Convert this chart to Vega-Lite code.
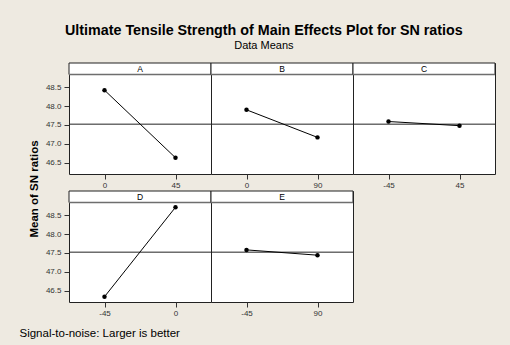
{
  "$schema": "https://vega.github.io/schema/vega-lite/v6.json",
  "background": "#EEEAE1",
  "padding": {"left": 19, "top": 23, "right": 15, "bottom": 8},
  "title": {
    "text": "Ultimate Tensile Strength of Main Effects Plot for SN ratios",
    "subtitle": "Data Means",
    "font": "Liberation Sans",
    "fontSize": 14.3,
    "fontWeight": "bold",
    "color": "black",
    "subtitleFont": "Liberation Sans",
    "subtitleFontSize": 11,
    "subtitleColor": "black",
    "subtitlePadding": 2,
    "offset": 10,
    "anchor": "middle",
    "dx": 6
  },
  "vconcat": [
    {
      "title": {
        "text": "Signal-to-noise: Larger is better",
        "orient": "bottom",
        "anchor": "start",
        "font": "Liberation Sans",
        "fontSize": 11.5,
        "fontWeight": "normal",
        "color": "black",
        "offset": 10,
        "dx": -9
      },
      "data": {
        "values": [
          {"factor": "A", "level": "0", "sn": 48.42},
          {"factor": "A", "level": "45", "sn": 46.63},
          {"factor": "B", "level": "0", "sn": 47.90},
          {"factor": "B", "level": "90", "sn": 47.17},
          {"factor": "C", "level": "-45", "sn": 47.59},
          {"factor": "C", "level": "45", "sn": 47.48},
          {"factor": "D", "level": "-45", "sn": 46.34},
          {"factor": "D", "level": "0", "sn": 48.71},
          {"factor": "E", "level": "-45", "sn": 47.58},
          {"factor": "E", "level": "90", "sn": 47.44}
        ]
      },
      "facet": {
        "field": "factor",
        "type": "nominal",
        "header": {
          "labels": false,
          "labelExpr": "''",
          "labelFontSize": 1,
          "labelPadding": 0,
          "title": "Mean of SN ratios",
          "titleOrient": "left",
          "titleFont": "Liberation Sans",
          "titleFontSize": 11.5,
          "titleFontWeight": "bold",
          "titleColor": "black",
          "titlePadding": 5
        }
      },
      "columns": 3,
      "bounds": "flush",
      "spacing": {"column": 0, "row": 17},
      "resolve": {"scale": {"x": "independent"}},
      "spec": {
        "width": 142,
        "height": 111,
        "encoding": {
          "y": {
            "type": "quantitative",
            "scale": {"domain": [46.2, 49.14], "nice": false, "zero": false},
            "axis": {
              "title": null,
              "values": [46.5, 47, 47.5, 48, 48.5],
              "format": ".1f",
              "domain": false,
              "grid": false,
              "tickSize": 5,
              "tickColor": "#333333",
              "labelFont": "Liberation Sans",
              "labelFontSize": 8,
              "labelColor": "#333333",
              "labelPadding": 3
            }
          }
        },
        "layer": [
          {
            "transform": [{"aggregate": [{"op": "count", "as": "n"}], "groupby": ["factor"]}],
            "mark": {"type": "rect", "fill": "white", "stroke": "#222222", "strokeWidth": 1},
            "encoding": {
              "y": {"datum": 48.835, "type": "quantitative"},
              "y2": {"datum": 49.14}
            }
          },
          {
            "transform": [{"aggregate": [{"op": "count", "as": "n"}], "groupby": ["factor"]}],
            "mark": {"type": "rule", "color": "#6e6e6e", "strokeWidth": 1.5},
            "encoding": {
              "y": {"datum": 48.835, "type": "quantitative"}
            }
          },
          {
            "transform": [{"aggregate": [{"op": "count", "as": "n"}], "groupby": ["factor"]}],
            "mark": {"type": "text", "font": "Liberation Sans", "fontSize": 8.5, "color": "black", "baseline": "middle"},
            "encoding": {
              "y": {"datum": 48.99, "type": "quantitative"},
              "text": {"field": "factor", "type": "nominal"}
            }
          },
          {
            "transform": [{"aggregate": [{"op": "count", "as": "n"}], "groupby": ["factor"]}],
            "mark": {"type": "rule", "color": "#222222", "strokeWidth": 1},
            "encoding": {
              "y": {"datum": 47.52, "type": "quantitative"}
            }
          },
          {
            "mark": {"type": "line", "color": "black", "strokeWidth": 1},
            "encoding": {
              "x": {
                "field": "level",
                "type": "nominal",
                "scale": {"type": "point", "padding": 0.5},
                "axis": {
                  "title": null,
                  "labelAngle": 0,
                  "domain": false,
                  "grid": false,
                  "tickSize": 5,
                  "tickColor": "#333333",
                  "labelFont": "Liberation Sans",
                  "labelFontSize": 8,
                  "labelColor": "#333333",
                  "labelPadding": 2
                }
              },
              "y": {"field": "sn"}
            }
          },
          {
            "mark": {"type": "point", "filled": true, "color": "black", "size": 20, "opacity": 1},
            "encoding": {
              "x": {"field": "level", "type": "nominal"},
              "y": {"field": "sn"}
            }
          }
        ]
      }
    }
  ],
  "config": {
    "view": {"stroke": "#222222", "strokeWidth": 1, "fill": "white"},
    "header": {"labels": false}
  }
}
